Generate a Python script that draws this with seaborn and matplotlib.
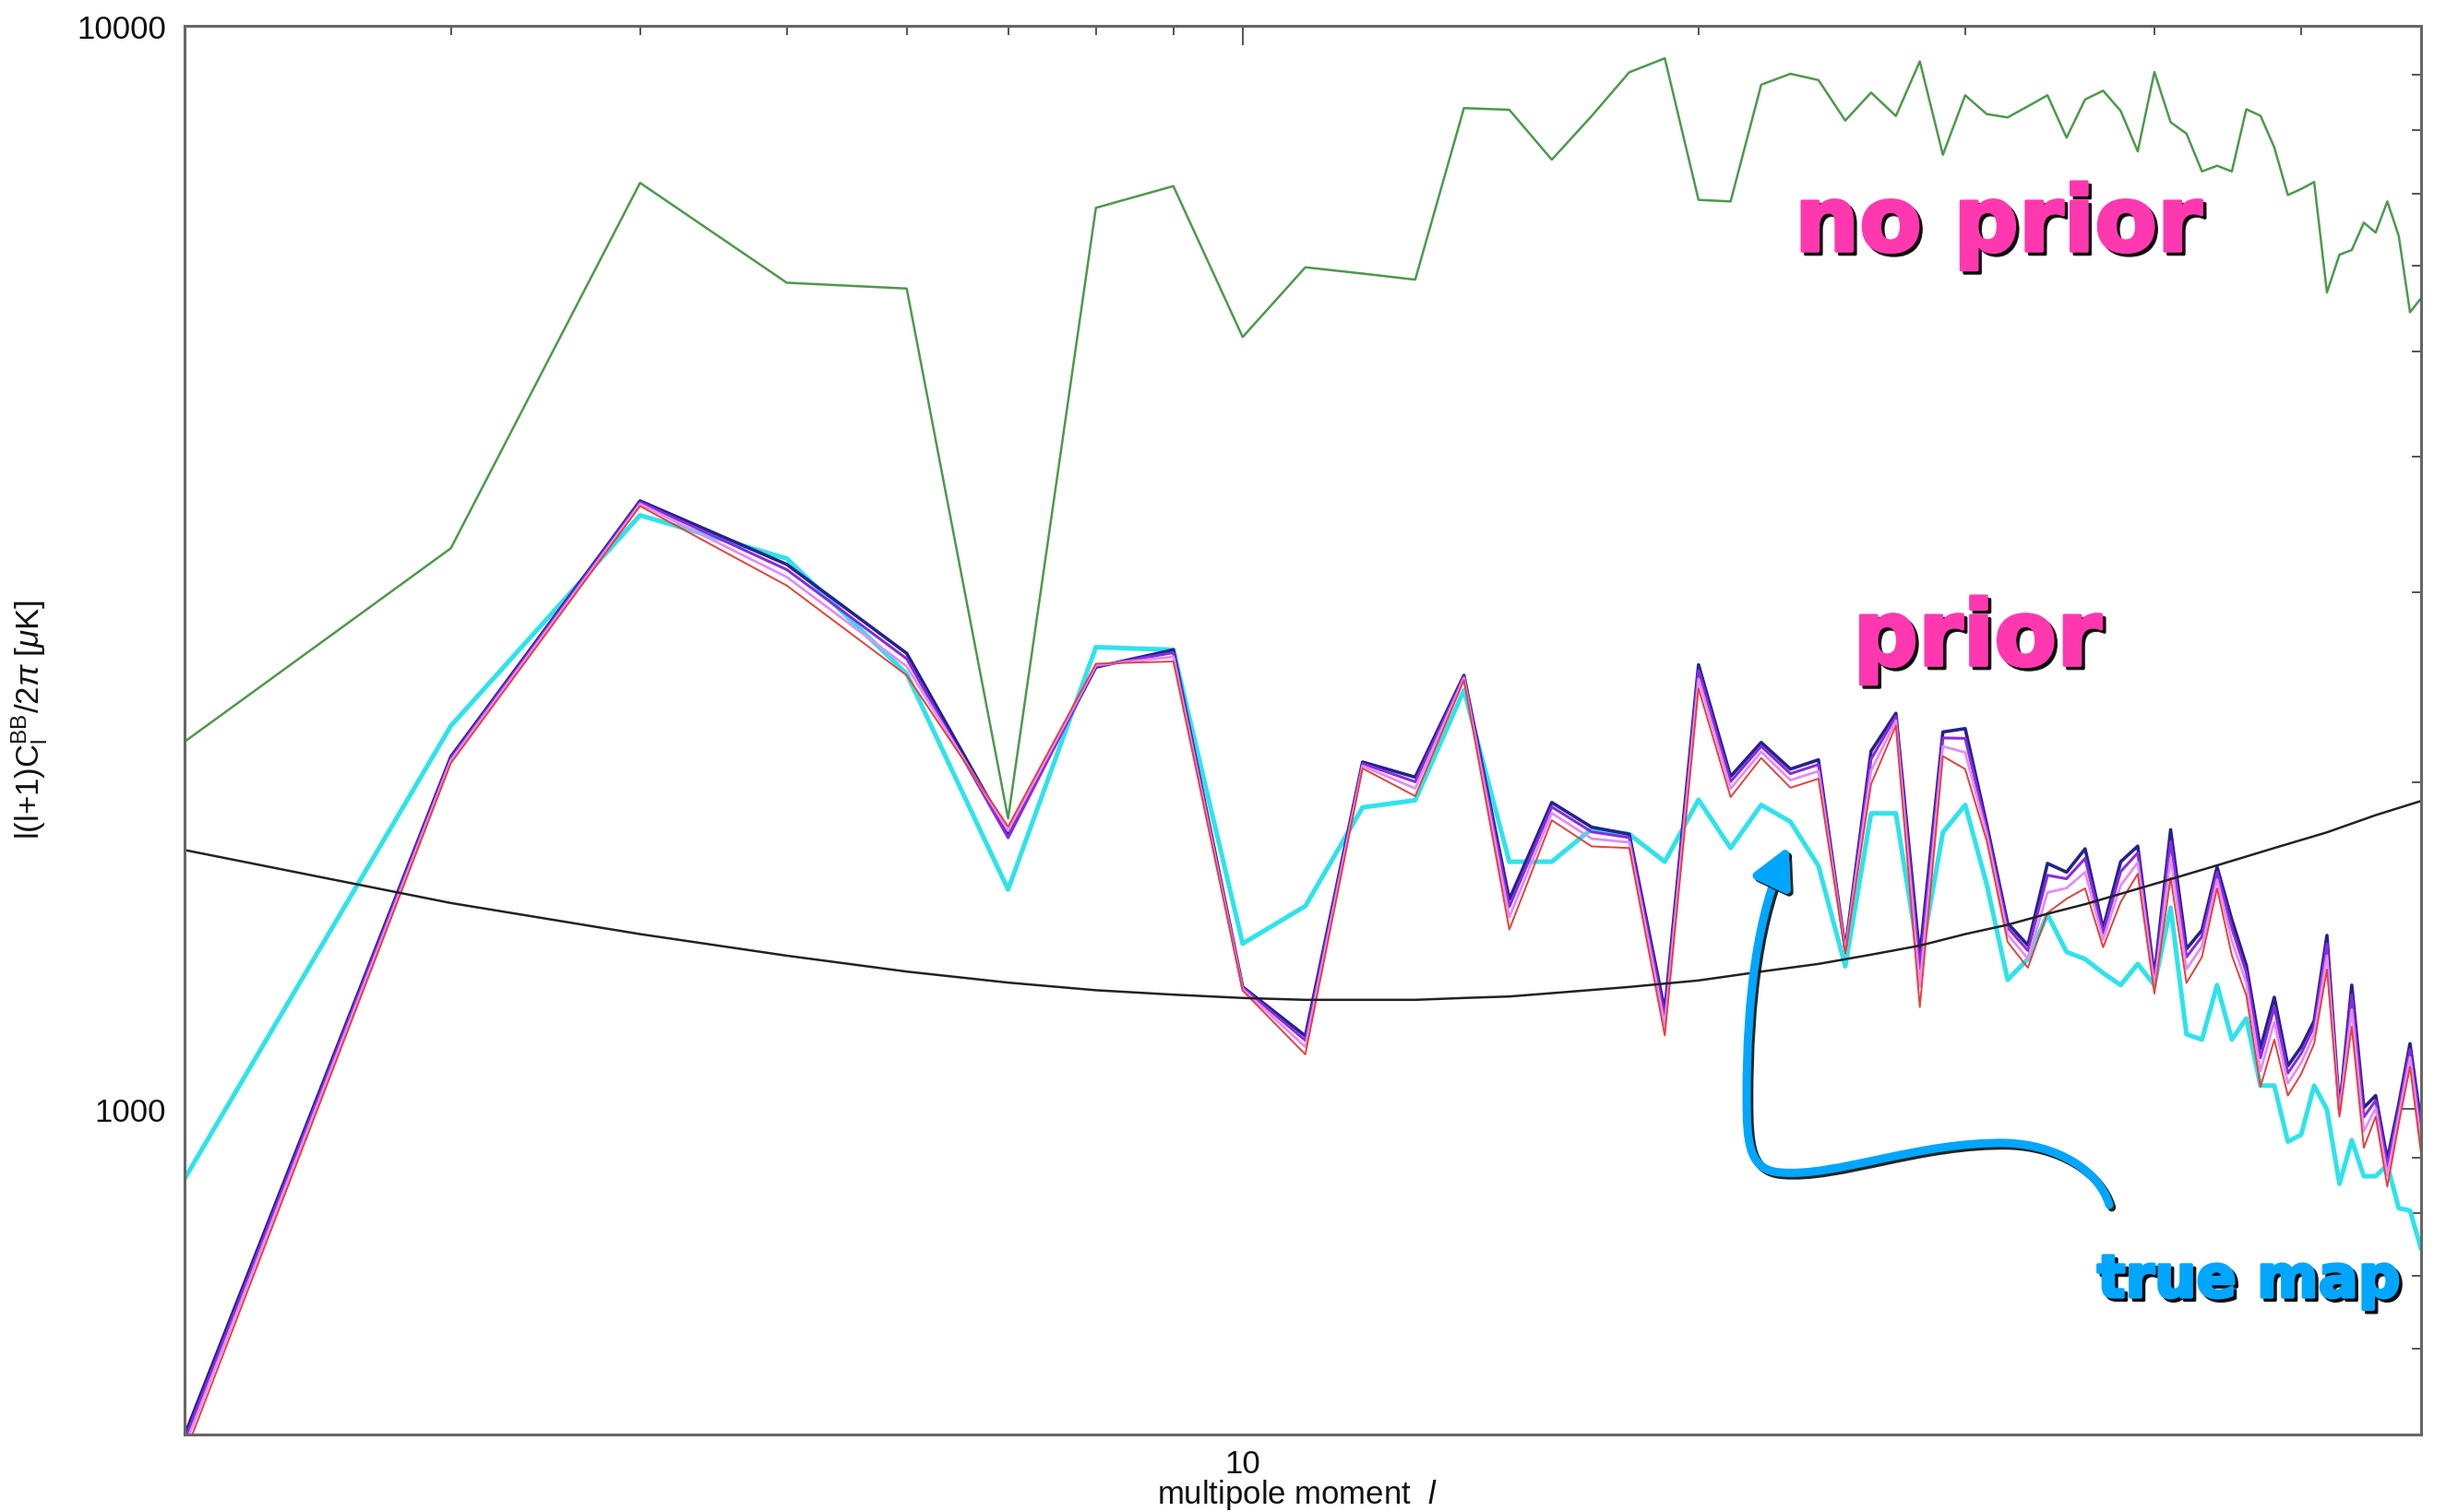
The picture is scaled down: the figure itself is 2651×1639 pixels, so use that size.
import matplotlib
matplotlib.use("Agg")
import matplotlib.pyplot as plt
import matplotlib.patheffects as pe
from matplotlib.path import Path
from matplotlib.patches import FancyArrowPatch, ArrowStyle
from matplotlib.ticker import FixedLocator, FixedFormatter, LogLocator, NullFormatter
import pandas as pd
import seaborn as sns

# multipole moments l = 2 .. 60
multipoles = list(range(2, 61))

# reconstruction without prior
no_prior = [2180, 3291, 7157, 5788, 5717, 1853, 6787, 7108, 5157, 5981,
            5902, 5826, 8390, 8360, 7519, 8250, 9054, 9328, 6903, 6880,
            8818, 9025, 8906, 8171, 8672, 8250, 9267, 7598, 8622, 8284,
            8226, 8423, 8622, 7879, 8546, 8707, 8341, 7653, 9060, 8142,
            7947, 7333, 7423, 7333, 8370, 8256, 7718, 6975, 7064, 7170,
            5670, 6143, 6205, 6576, 6440, 6880, 6393, 5436, 5600]

# input (true) map
true_map = [860, 2256, 3530, 3220, 2520, 1593, 2667, 2652, 1420, 1538,
            1897, 1926, 2434, 1690, 1690, 1812, 1792, 1690, 1928, 1740,
            1907, 1840, 1675, 1353, 1873, 1873, 1360, 1799, 1907, 1610,
            1315, 1374, 1511, 1395, 1374, 1334, 1300, 1360, 1300, 1533,
            1171, 1158, 1300, 1158, 1211, 1050, 1050, 932, 946, 1050,
            998, 852, 935, 866, 866, 887, 809, 805, 742]

# reconstructions with prior
prior_navy = [498, 2113, 3640, 3180, 2632, 1795, 2556, 2652, 1295, 1167,
              2089, 2023, 2512, 1560, 1917, 1819, 1792, 1231, 2569, 2026,
              2178, 2058, 2099, 1403, 2138, 2317, 1381, 2227, 2243, 1829,
              1483, 1415, 1684, 1653, 1737, 1466, 1690, 1747, 1325, 1809,
              1404, 1461, 1671, 1494, 1356, 1136, 1267, 1095, 1140, 1205,
              1445, 998, 1300, 1002, 1028, 897, 1009, 1148, 968]
prior_purple = [493, 2106, 3630, 3145, 2602, 1778, 2561, 2636, 1293, 1156,
                2082, 2003, 2506, 1536, 1899, 1801, 1779, 1215, 2538, 2004,
                2160, 2038, 2078, 1400, 2102, 2302, 1346, 2199, 2197, 1813,
                1469, 1399, 1642, 1630, 1702, 1452, 1655, 1722, 1313, 1765,
                1380, 1441, 1653, 1467, 1335, 1114, 1240, 1078, 1124, 1191,
                1420, 994, 1273, 982, 1017, 885, 999, 1134, 953]
prior_violet = [486, 2096, 3616, 3096, 2560, 1805, 2567, 2613, 1289, 1140,
                2072, 1975, 2497, 1502, 1874, 1775, 1761, 1193, 2493, 1974,
                2135, 2010, 2049, 1395, 2051, 2281, 1297, 2160, 2132, 1791,
                1448, 1375, 1583, 1598, 1653, 1432, 1607, 1687, 1296, 1704,
                1345, 1412, 1627, 1429, 1306, 1083, 1202, 1055, 1102, 1171,
                1384, 989, 1234, 953, 1001, 867, 984, 1115, 933]
prior_red = [478, 2084, 3600, 3040, 2512, 1821, 2575, 2587, 1285, 1122,
             2061, 1943, 2487, 1463, 1846, 1746, 1740, 1168, 2443, 1939,
             2107, 1978, 2016, 1390, 1993, 2257, 1241, 2115, 2058, 1766,
             1425, 1349, 1516, 1562, 1597, 1409, 1551, 1647, 1277, 1634,
             1306, 1380, 1597, 1385, 1272, 1047, 1158, 1028, 1076, 1148,
             1344, 983, 1190, 920, 983, 847, 968, 1093, 909]

# noise level curve
noise_l = [2, 3, 4, 5, 6, 7, 8, 9, 10, 11, 12, 13, 14, 15, 16, 18, 20, 22,
           24, 26, 28, 30, 32, 34, 36, 40, 44, 48, 52, 56, 60]
noise_level = [1733, 1548, 1449, 1384, 1338, 1307, 1286, 1274, 1265, 1260,
               1260, 1260, 1265, 1269, 1278, 1295, 1313, 1338, 1360, 1387,
               1414, 1449, 1478, 1513, 1544, 1612, 1677, 1740, 1799, 1866,
               1923]

sns.set_style("white")
plt.rcParams["font.family"] = ["Liberation Sans", "DejaVu Sans"]
plt.rcParams["mathtext.fontset"] = "custom"
plt.rcParams["mathtext.rm"] = "Liberation Sans"
plt.rcParams["mathtext.it"] = "Liberation Sans:italic"
plt.rcParams["mathtext.sf"] = "Liberation Sans"

fig = plt.figure(figsize=(26.51, 16.40), dpi=100)
ax = fig.add_axes([0.0753, 0.0512, 0.9145, 0.9313])

series = [
    (true_map, "#2fe3ea", 3.6),
    (no_prior, "#4c9a4c", 1.8),
    (prior_navy, "#23238c", 2.6),
    (prior_purple, "#8a2be2", 2.2),
    (prior_violet, "#e58cf2", 2.0),
    (prior_red, "#e8403a", 1.4),
]
for values, color, lw in series:
    df = pd.DataFrame({"l": multipoles, "cl": values})
    sns.lineplot(data=df, x="l", y="cl", ax=ax, color=color, linewidth=lw,
                 estimator=None, sort=False)

noise_df = pd.DataFrame({"l": noise_l, "cl": noise_level})
sns.lineplot(data=noise_df, x="l", y="cl", ax=ax, color="#222222",
             linewidth=1.8, estimator=None, sort=False)

ax.set_xscale("log")
ax.set_yscale("log")
ax.set_xlim(2, 60)
ax.set_ylim(500, 10000)

ax.xaxis.set_major_locator(FixedLocator([10]))
ax.xaxis.set_major_formatter(FixedFormatter(["10"]))
ax.xaxis.set_minor_locator(LogLocator(base=10, subs=range(2, 10)))
ax.xaxis.set_minor_formatter(NullFormatter())
ax.yaxis.set_major_locator(FixedLocator([1000, 10000]))
ax.yaxis.set_major_formatter(FixedFormatter(["1000", "10000"]))
ax.yaxis.set_minor_locator(LogLocator(base=10, subs=range(2, 10)))
ax.yaxis.set_minor_formatter(NullFormatter())

ax.tick_params(which="both", direction="in", top=True, right=True,
               color="#555555", width=1.4, labelsize=25, labelcolor="#111111")
ax.tick_params(which="major", length=15, pad=11)
ax.tick_params(which="minor", length=7)
ax.tick_params(axis="y", which="major", pad=14)

for sp in ax.spines.values():
    sp.set_color("#666666")
    sp.set_linewidth(2.2)

ax.set_xlabel(r"multipole moment  $\mathit{l}$", fontsize=25, color="#111111")
ax.set_ylabel(r"l(l+1)C$_\mathrm{l}^\mathrm{BB}$/2$\pi$ [$\mu$K]", fontsize=25,
              color="#111111")
ax.xaxis.set_label_coords(0.4976, -0.030)
ax.yaxis.set_label_coords(-0.060, 0.508)
ax.grid(False)


def heavy_shadow(color):
    return [
        pe.Stroke(offset=(2.5, -2.5), linewidth=2.5, foreground="black", alpha=0.9),
        pe.SimplePatchShadow(offset=(2.5, -2.5), shadow_rgbFace="black", alpha=0.9),
        pe.Stroke(linewidth=2.5, foreground=color),
        pe.Normal(),
    ]


label_style = dict(ha="center", va="baseline", fontweight="bold",
                   family="DejaVu Sans", transform=ax.transAxes)
pink = "#ff38b0"
blue = "#00a6ff"
ax.text(0.811, 0.840, "no prior", fontsize=71, color=pink,
        path_effects=heavy_shadow(pink), **label_style)
ax.text(0.8016, 0.546, "prior", fontsize=71, color=pink,
        path_effects=heavy_shadow(pink), **label_style)
ax.text(0.923, 0.0976, "true map", fontsize=46, color=blue,
        path_effects=heavy_shadow(blue), **label_style)

# curved pointer from the "true map" label to the cyan curve
verts = [
    (0.8606, 0.1630),
    (0.8561, 0.1873), (0.8375, 0.2056), (0.8148, 0.2069),
    (0.7756, 0.2082), (0.7385, 0.1827), (0.7138, 0.1860),
    (0.6994, 0.1873), (0.6985, 0.2069), (0.6985, 0.2396),
    (0.6985, 0.3116), (0.7035, 0.3706), (0.7174, 0.4177),
]
codes = [Path.MOVETO] + [Path.CURVE4] * 12
arrow = FancyArrowPatch(
    path=Path(verts, codes),
    arrowstyle=ArrowStyle("-|>", head_length=0.82, head_width=0.43),
    mutation_scale=30, color=blue, linewidth=6.5, capstyle="round",
    transform=ax.transAxes,
    path_effects=[pe.SimpleLineShadow(offset=(2, -2), shadow_color="black",
                                      alpha=0.85), pe.Normal()],
    zorder=5,
)
ax.add_patch(arrow)

fig.savefig("out.png", dpi=100)
